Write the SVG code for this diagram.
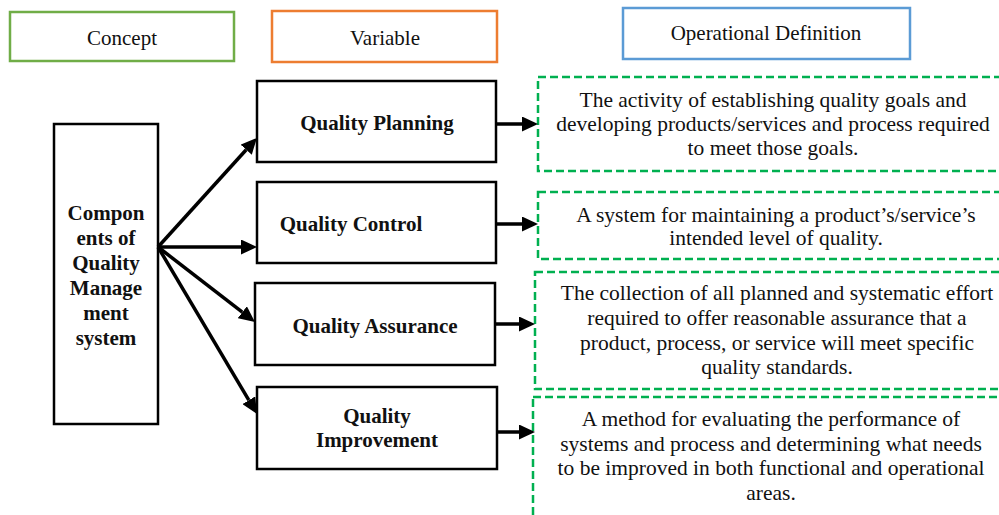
<svg xmlns="http://www.w3.org/2000/svg" width="999" height="515" viewBox="0 0 999 515">
<style>
  .hdr { fill: #fff; stroke-width: 2.5; }
  .box { fill: #fff; stroke: #000; stroke-width: 2.5; }
  .def { fill: #fff; stroke: #00b050; stroke-width: 2.5; stroke-dasharray: 8 4; }
  .t { font-family: "Liberation Serif", "Times New Roman", serif; fill: #111; text-anchor: middle; }
  .r { font-size: 21px; }
  .b { font-size: 21px; font-weight: bold; }
  .d { font-size: 21.5px; }
  .conn line { stroke: #000; stroke-width: 3.5; }
</style>
<defs>
  <marker id="ah" markerUnits="userSpaceOnUse" markerWidth="16" markerHeight="15" refX="0" refY="7.5" orient="auto">
    <path d="M0,0 L16,7.5 L0,15 z" fill="#000"/>
  </marker>
</defs>
<rect width="999" height="515" fill="#fff"/>

<g id="hdr-concept">
  <rect class="hdr" x="10" y="12" width="224" height="49" stroke="#70ad47"/>
  <text class="t r" x="122" y="45">Concept</text>
</g>
<g id="hdr-variable">
  <rect class="hdr" x="272" y="11" width="225" height="51" stroke="#ed7d31"/>
  <text class="t r" x="385" y="45">Variable</text>
</g>
<g id="hdr-opdef">
  <rect class="hdr" x="623" y="8" width="287" height="51" stroke="#5b9bd5"/>
  <text class="t r" x="766" y="40">Operational Definition</text>
</g>

<g id="qms">
  <rect class="box" x="54" y="124" width="104" height="300"/>
  <text class="t b" x="106" y="220">Compon</text>
  <text class="t b" x="106" y="245">ents of</text>
  <text class="t b" x="106" y="270">Quality</text>
  <text class="t b" x="106" y="295">Manage</text>
  <text class="t b" x="106" y="320">ment</text>
  <text class="t b" x="106" y="345">system</text>
</g>

<g id="qp">
  <rect class="box" x="257" y="81" width="239" height="81"/>
  <text class="t b" x="377" y="130">Quality Planning</text>
</g>
<g id="qc">
  <rect class="box" x="257" y="182" width="239" height="81"/>
  <text class="t b" x="351" y="231">Quality Control</text>
</g>
<g id="qa">
  <rect class="box" x="255" y="283" width="240" height="82"/>
  <text class="t b" x="375" y="333">Quality Assurance</text>
</g>
<g id="qi">
  <rect class="box" x="257" y="387" width="240" height="82"/>
  <text class="t b" x="377" y="423">Quality</text>
  <text class="t b" x="377" y="447">Improvement</text>
</g>

<g id="def-qp">
  <rect class="def" x="538" y="77" width="470" height="94"/>
  <text class="t d" x="773" y="107">The activity of establishing quality goals and</text>
  <text class="t d" x="773" y="131">developing products/services and process required</text>
  <text class="t d" x="773" y="155">to meet those goals.</text>
</g>
<g id="def-qc">
  <rect class="def" x="538" y="192" width="470" height="67"/>
  <text class="t d" x="776" y="222">A system for maintaining a product’s/service’s</text>
  <text class="t d" x="776" y="245">intended level of quality.</text>
</g>
<g id="def-qa">
  <rect class="def" x="535" y="272" width="473" height="117"/>
  <text class="t d" x="777" y="300">The collection of all planned and systematic effort</text>
  <text class="t d" x="777" y="325">required to offer reasonable assurance that a</text>
  <text class="t d" x="777" y="350">product, process, or service will meet specific</text>
  <text class="t d" x="777" y="374">quality standards.</text>
</g>
<g id="def-qi">
  <rect class="def" x="533" y="397" width="475" height="130"/>
  <text class="t d" x="771" y="426">A method for evaluating the performance of</text>
  <text class="t d" x="771" y="451">systems and process and determining what needs</text>
  <text class="t d" x="771" y="475">to be improved in both functional and operational</text>
  <text class="t d" x="771" y="500">areas.</text>
</g>

<g id="connectors" class="conn">
  <line x1="158" y1="247" x2="246.2" y2="149.8" marker-end="url(#ah)"/>
  <line x1="158" y1="247" x2="241" y2="247" marker-end="url(#ah)"/>
  <line x1="158" y1="247" x2="242.3" y2="312.2" marker-end="url(#ah)"/>
  <line x1="158" y1="247" x2="248.8" y2="400.2" marker-end="url(#ah)"/>
  <line x1="496" y1="124" x2="522" y2="124" marker-end="url(#ah)"/>
  <line x1="496" y1="224" x2="522" y2="224" marker-end="url(#ah)"/>
  <line x1="495" y1="324" x2="519" y2="324" marker-end="url(#ah)"/>
  <line x1="497" y1="432" x2="519" y2="432" marker-end="url(#ah)"/>
</g>
</svg>
